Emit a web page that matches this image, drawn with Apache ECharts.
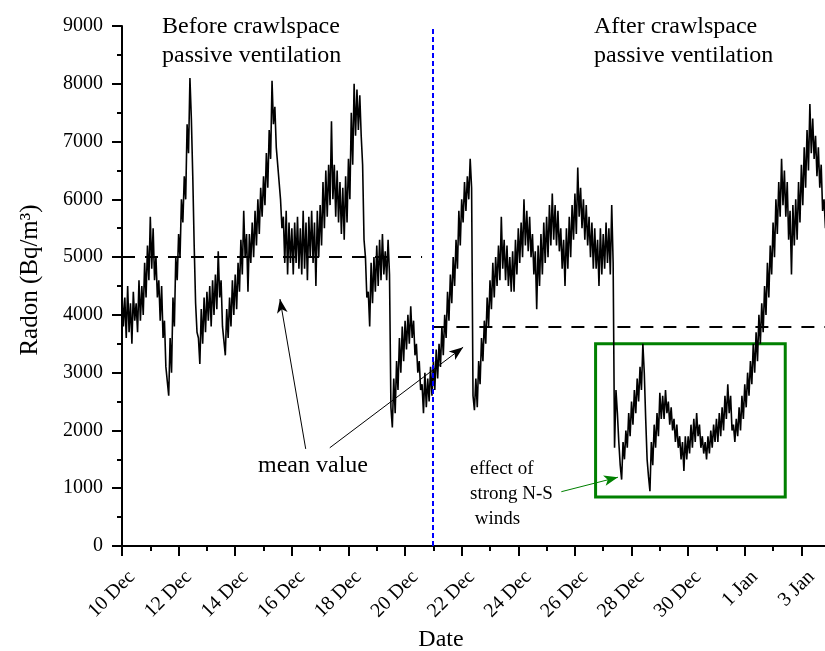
<!DOCTYPE html>
<html>
<head>
<meta charset="utf-8">
<title>Radon</title>
<script src="https://cdn.jsdelivr.net/npm/echarts@6.0.0/dist/echarts.min.js"></script>
<style>
    html, body { margin: 0; padding: 0; background: #fff; }
    #radonChart { width: 825px; height: 651px; }
</style>
</head>
<body>
<div id="radonChart"></div>
<script>
// radon readings, one every 0.05 day starting 10 Dec 00:00
// (read off the plot as high / low pairs so the noise band shows)
const STEP_DAYS = 0.05;
const radonDec10 = [
    4400, 3800, 4300, 3600, 4500, 3700, 4200, 3500, 4400, 3900,
    4200, 3700, 4600, 3900, 4500, 4000, 4900, 4300, 5200, 4600,
    5700, 4800, 5500, 4600, 5000, 4300, 4600, 3900, 4500, 3600,
    3900, 3100, 3100, 2600, 3600, 3000, 4300, 3800, 5000, 4600,
    5400, 5000, 6000, 5600, 6400, 6000, 7300, 6800, 8100, 7400,
    6400, 5200, 4200, 3700, 3600, 3150, 4100, 3500, 4300, 3700,
    4400, 3900, 4500, 3800, 4600, 4000, 4700, 4100, 5100, 4300,
    4600, 3800, 3800, 3300, 4100, 3600, 4300, 3800, 4600, 4000,
    4700, 4100, 4900, 4400, 5300, 4700, 5800, 5000, 5400, 4400,
    5400, 4900, 5600, 5000, 5800, 5200, 6000, 5400, 6200, 5700,
];
const radonDec15 = [
    6400, 5900, 6800, 6200, 7200, 6700, 8050, 7300, 7600, 6900,
    6900, 6300, 6000, 5500, 5700, 4900, 5800, 4700, 5600, 4900,
    5500, 4700, 5600, 4900, 5700, 4800, 5500, 4700, 5800, 4800,
    5600, 4600, 5700, 5000, 5800, 4900, 5600, 4500, 5800, 5000,
    5900, 5200, 6300, 5500, 6500, 5700, 6600, 5900, 7350, 6000,
    6600, 5700, 6500, 5600, 6300, 5400, 6200, 5300, 6400, 5600,
    6700, 6000, 7500, 6600, 8000, 7100, 7900, 7200, 7800, 7100,
    6600, 5300, 5000, 4300, 4400, 3800, 4900, 4200, 5000, 4400,
    5200, 4500, 5300, 4600, 5400, 4700, 5100, 4600, 5300, 4700,
    2400, 2050, 2900, 2300, 3200, 2700, 3600, 3000, 3800, 3200,
];
const radonDec20 = [
    3900, 3400, 4000, 3500, 4150, 3600, 3900, 3300, 3500, 3000,
    3200, 2700, 2800, 2300, 3000, 2400, 2900, 2500, 3100, 2600,
    3200, 2700, 3400, 2900, 3500, 3100, 3800, 3300, 4000, 3600,
    4400, 3900, 4700, 4200, 5000, 4500, 5300, 4800, 5800, 5200,
    6000, 5600, 6300, 5800, 6400, 6000, 6700, 6200, 2600, 2350,
    2900, 2400, 3200, 2800, 3600, 3200, 3900, 3500, 4300, 3800,
    4600, 4100, 4900, 4300, 5000, 4500, 5200, 4600, 5700, 4800,
    5300, 4600, 5200, 4500, 5000, 4400, 5100, 4400, 5300, 4700,
    5500, 4900, 5600, 5000, 6000, 5200, 5800, 5100, 5700, 5000,
    5400, 4700, 5100, 4100, 5200, 4500, 5400, 4700, 5600, 4900,
];
const radonDec25 = [
    5700, 5000, 5900, 5200, 6100, 5300, 5900, 5200, 5800, 5100,
    5500, 4800, 5300, 4500, 5500, 4800, 5700, 5000, 5900, 5300,
    6100, 5400, 6550, 5700, 6200, 5500, 6000, 5300, 5900, 5200,
    5700, 5000, 5600, 4800, 5500, 4800, 5300, 4500, 5500, 4700,
    5400, 4800, 5600, 4900, 5500, 4700, 5900, 4900, 1700, 2700,
    2300, 1800, 1400, 1150, 1800, 1500, 2000, 1700, 2300, 1900,
    2500, 2100, 2700, 2300, 2900, 2500, 3100, 2700, 3500, 3000,
    2200, 1500, 1200, 950, 1800, 1400, 2100, 1700, 2300, 1900,
    2650, 2200, 2600, 2200, 2700, 2300, 2500, 2100, 2400, 2000,
    2200, 1800, 2100, 1700, 1900, 1500, 1800, 1300, 1900, 1500,
];
const radonDec30 = [
    1900, 1600, 2100, 1700, 2200, 1800, 2300, 1900, 2100, 1700,
    1900, 1600, 1800, 1500, 1900, 1600, 2000, 1700, 2100, 1800,
    2200, 1800, 2300, 1900, 2400, 2000, 2600, 2200, 2800, 2300,
    2600, 2000, 2100, 1800, 2200, 1900, 2400, 2000, 2600, 2200,
    2800, 2400, 3000, 2600, 3200, 2800, 3500, 3000, 3700, 3200,
    4000, 3500, 4200, 3700, 4500, 4000, 4900, 4300, 5200, 4700,
    5600, 5000, 6000, 5400, 6300, 5700, 6700, 5900, 6500, 5700,
    6300, 5300, 5800, 4700, 5900, 5200, 6000, 5300, 6300, 5600,
    6600, 5900, 6900, 6200, 7200, 6500, 7650, 6800, 7400, 6700,
    7100, 6400, 6900, 6200, 6600, 5800, 6000, 5500,
];

// mean values before / after the ventilation (Bq/m3)
const meanBefore = 5000;
const meanAfter = 3800;
const ventilationDay = 10.97; // evening of 20 Dec
// box around the windy period: [startDay, top], [endDay, bottom]
const windBox = [[16.73, 3500], [23.43, 850]];

const radonAll = [].concat(radonDec10, radonDec15, radonDec20, radonDec25, radonDec30);

const serif = '"Liberation Serif", "Times New Roman", serif';

function dayLabel(v) {
    if (v % 2 !== 0) return '';
    if (v <= 21) return (10 + v) + ' Dec';
    return (v - 21) + ' Jan';
}

function initChart() {
    const chart = echarts.init(document.getElementById('radonChart'), null, { renderer: 'canvas' });

    const seriesData = radonAll.map((val, i) => [Math.round(i * STEP_DAYS * 100) / 100, val]);

    const option = {
        animation: false,
        backgroundColor: '#fff',
        grid: { left: 122, right: -33, top: 26, bottom: 105, containLabel: false, outerBoundsMode: 'none' },
        xAxis: {
            type: 'value',
            min: 0,
            max: 26,
            interval: 2,
            axisLine: { lineStyle: { color: '#000', width: 2 } },
            axisTick: { inside: false, length: 10, lineStyle: { color: '#000', width: 2 } },
            minorTick: { show: true, splitNumber: 2, length: 5, lineStyle: { color: '#000', width: 2 } },
            splitLine: { show: false },
            axisLabel: {
                rotate: 45,
                margin: 18,
                verticalAlign: 'top',
                lineHeight: 28,
                color: '#000',
                fontFamily: serif,
                fontSize: 20,
                formatter: dayLabel,
            },
        },
        yAxis: {
            type: 'value',
            min: 0,
            max: 9000,
            interval: 1000,
            axisLine: { show: true, lineStyle: { color: '#000', width: 2 } },
            axisTick: { show: true, length: 10, lineStyle: { color: '#000', width: 2 } },
            minorTick: { show: true, splitNumber: 2, length: 5, lineStyle: { color: '#000', width: 2 } },
            splitLine: { show: false },
            axisLabel: {
                margin: 19,
                color: '#000',
                fontFamily: serif,
                fontSize: 20,
                formatter: (v) => String(v),
            },
        },
        series: [
            {
                name: 'Radon',
                type: 'line',
                data: seriesData,
                showSymbol: false,
                lineStyle: { color: '#000', width: 1.6 },
                z: 3,
                markArea: {
                    silent: true,
                    itemStyle: { color: 'rgba(0,0,0,0)', borderColor: '#008000', borderWidth: 3 },
                    data: [[{ coord: windBox[0] }, { coord: windBox[1] }]],
                },
                markLine: {
                    silent: true,
                    symbol: ['none', 'none'],
                    label: { show: false },
                    data: [
                        // mean lines
                        [
                            { coord: [0, meanBefore], lineStyle: { color: '#000', width: 2, type: [13, 10] } },
                            { coord: [10.6, meanBefore] },
                        ],
                        [
                            { coord: [11, meanAfter], lineStyle: { color: '#000', width: 2, type: [13, 10] } },
                            { coord: [26, meanAfter] },
                        ],
                        // start of passive ventilation
                        [
                            { coord: [ventilationDay, 0], lineStyle: { color: '#0000ff', width: 2, type: [5, 3] } },
                            { coord: [ventilationDay, 8970] },
                        ],
                        // arrows from "mean value"
                        [
                            { coord: [6.49, 1680], lineStyle: { color: '#000', width: 1, type: 'solid' } },
                            { coord: [5.58, 4275], symbol: 'arrow', symbolSize: [8, 14] },
                        ],
                        [
                            { coord: [7.34, 1700], lineStyle: { color: '#000', width: 1, type: 'solid' } },
                            { coord: [12.05, 3440], symbol: 'arrow', symbolSize: [8, 14] },
                        ],
                        // arrow from the wind note
                        [
                            { coord: [15.52, 940], lineStyle: { color: '#008000', width: 1, type: 'solid' }, itemStyle: { color: '#008000' } },
                            { coord: [17.52, 1190], symbol: 'arrow', symbolSize: [8, 14], itemStyle: { color: '#008000' } },
                        ],
                    ],
                },
            },
        ],
        graphic: [
            {
                type: 'text', x: 162, y: 12,
                style: { text: 'Before crawlspace\npassive ventilation', font: '24px ' + serif, fill: '#000', lineHeight: 29 },
            },
            {
                type: 'text', x: 594, y: 12,
                style: { text: 'After crawlspace\npassive ventilation', font: '24px ' + serif, fill: '#000', lineHeight: 29 },
            },
            {
                type: 'text', x: 313, y: 466,
                style: { text: 'mean value', font: '24px ' + serif, fill: '#000', align: 'center', verticalAlign: 'middle' },
            },
            {
                type: 'text', x: 470, y: 457,
                style: { text: 'effect of\nstrong N-S\n winds', font: '19px ' + serif, fill: '#000', lineHeight: 25 },
            },
            {
                type: 'text', x: 30, y: 280, rotation: Math.PI / 2,
                style: { text: 'Radon (Bq/m³)', font: '25px ' + serif, fill: '#000', align: 'center', verticalAlign: 'middle' },
            },
            {
                type: 'text', x: 441, y: 640,
                style: { text: 'Date', font: '24px ' + serif, fill: '#000', align: 'center', verticalAlign: 'middle' },
            },
        ],
    };
    chart.setOption(option, true);
}

initChart();
</script>
</body>
</html>
